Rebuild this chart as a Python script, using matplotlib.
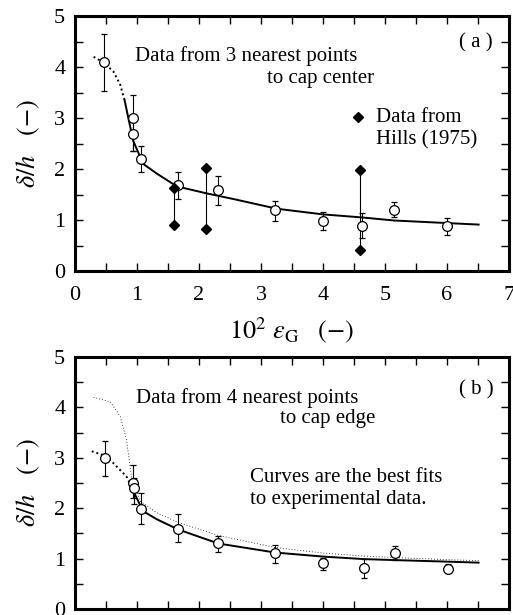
import matplotlib
matplotlib.use("Agg")
import matplotlib.pyplot as plt
from matplotlib.ticker import MultipleLocator

plt.rcParams['font.family'] = ['Liberation Serif', 'DejaVu Serif']
plt.rcParams['mathtext.fontset'] = 'stix'

# ---- Panel (a): 3 nearest points to cap center ----
a_x = [0.46, 0.93, 0.93, 1.06, 1.66, 2.31, 3.23, 4.00, 4.63, 5.15, 6.00]
a_y = [4.09, 3.00, 2.68, 2.19, 1.68, 1.58, 1.19, 0.98, 0.88, 1.20, 0.88]
a_lo = [3.53, 2.35, 2.35, 1.94, 1.41, 1.30, 0.99, 0.80, 0.65, 1.05, 0.71]
a_hi = [4.65, 3.46, 3.00, 2.45, 1.94, 1.87, 1.37, 1.16, 1.13, 1.36, 1.04]

hills_x = [1.60, 2.11, 4.59]
hills_top = [1.63, 2.02, 1.98]
hills_bot = [0.91, 0.82, 0.41]

fitA_dash_x = [0.30, 0.46, 0.62, 0.73, 0.80]
fitA_dash_y = [4.20, 4.09, 3.91, 3.65, 3.35]
fitA_x = [0.80, 0.86, 0.94, 1.10, 1.32, 1.64, 2.13, 2.56, 3.26, 4.00, 4.63, 5.15, 6.00, 6.51]
fitA_y = [3.35, 3.00, 2.55, 2.10, 1.91, 1.66, 1.52, 1.41, 1.22, 1.11, 1.05, 0.99, 0.94, 0.91]

# ---- Panel (b): 4 nearest points to cap edge ----
b_x = [0.48, 0.93, 0.95, 1.06, 1.66, 2.31, 3.23, 4.00, 4.66, 5.16, 6.01]
b_y = [2.99, 2.50, 2.40, 1.99, 1.59, 1.30, 1.11, 0.91, 0.81, 1.11, 0.80]
b_lo = [2.63, 2.20, 2.09, 1.69, 1.32, 1.14, 0.92, 0.78, 0.61, 0.97, 0.72]
b_hi = [3.34, 2.86, 2.60, 2.30, 1.88, 1.45, 1.26, 1.02, 0.99, 1.25, 0.89]

fitB_dash_x = [0.27, 0.51, 0.67, 0.83, 0.90]
fitB_dash_y = [3.13, 3.03, 2.83, 2.63, 2.45]
fitB_x = [0.90, 0.94, 1.10, 1.32, 1.66, 2.31, 3.23, 4.00, 4.66, 5.16, 6.00, 6.51]
fitB_y = [2.45, 2.34, 1.94, 1.78, 1.58, 1.30, 1.12, 1.04, 0.99, 0.97, 0.94, 0.92]

fitA_dot_x = [0.30, 0.57, 0.73, 0.83, 0.91, 1.05, 1.32, 1.66, 2.31, 3.23, 4.00, 4.66, 5.16, 6.00, 6.51]
fitA_dot_y = [4.20, 4.11, 3.82, 3.36, 2.63, 2.14, 1.91, 1.72, 1.46, 1.22, 1.11, 1.05, 1.02, 0.98, 0.96]

xticks = [0, 1, 2, 3, 4, 5, 6, 7]
yticks = [0, 1, 2, 3, 4, 5]

TXT = 15

fig = plt.figure(figsize=(5.13, 6.15), dpi=100)
axA = fig.add_axes([75/513, 1-271/615, 434/513, 255/615])
axB = fig.add_axes([75/513, 1-609/615, 434/513, 252/615])

def style(ax, show_xlabels=True):
    ax.set_xlim(0, 7)
    ax.set_ylim(0, 5)
    ax.set_xticks(xticks)
    ax.set_yticks(yticks)
    ax.xaxis.set_minor_locator(MultipleLocator(0.5))
    ax.yaxis.set_minor_locator(MultipleLocator(0.5))
    ax.tick_params(which='both', direction='in', top=True, right=True, width=1.0)
    ax.tick_params(which='major', length=6, labelsize=16)
    ax.tick_params(axis='x', which='major', pad=11)
    ax.tick_params(axis='y', which='major', pad=7)
    ax.tick_params(which='minor', length=6)
    for s in ax.spines.values():
        s.set_linewidth(2.2)
    if not show_xlabels:
        ax.tick_params(axis='x', labelbottom=False)
    ax.set_ylabel(r'$\delta/h$   $(-)$', fontsize=19, labelpad=9)

def circles(ax, x, y, lo, hi):
    yerr = [[yy - l for yy, l in zip(y, lo)], [h - yy for yy, h in zip(y, hi)]]
    ax.errorbar(x, y, yerr=yerr, fmt='o', mfc='white', mec='black', mew=0.9,
                ms=7, ecolor='black', elinewidth=0.8, capsize=2.5, capthick=0.8, zorder=3)

# Panel a
style(axA)
axA.plot(fitA_dash_x, fitA_dash_y, color='black', lw=1.4, ls=(0, (1.0, 1.5)), zorder=2)
axA.plot(fitA_x, fitA_y, color='black', lw=1.4, zorder=2)
circles(axA, a_x, a_y, a_lo, a_hi)
axA.vlines(hills_x, hills_bot, hills_top, color='black', lw=0.8, zorder=2)
axA.plot(hills_x, hills_top, 'D', color='black', ms=5.5, zorder=4)
axA.plot(hills_x, hills_bot, 'D', color='black', ms=5.5, zorder=4)
axA.plot([4.56], [3.01], 'D', color='black', ms=5.5)
axA.text(4.86, 3.01, 'Data from', fontsize=TXT, va='center', ha='left')
axA.text(4.86, 2.57, 'Hills (1975)', fontsize=TXT, va='center', ha='left')
axA.text(0.97, 4.21, 'Data from 3 nearest points', fontsize=TXT, va='center', ha='left')
axA.text(4.83, 3.77, 'to cap center', fontsize=TXT, va='center', ha='right')
axA.text(6.74, 4.48, '( a )', fontsize=15, va='center', ha='right')
axA.set_xlabel(r'$10^2\ \varepsilon_{\mathrm{G}}\ \ \ (-)$', fontsize=19, labelpad=7)

# Panel b
style(axB, show_xlabels=False)
axB.plot(fitA_dot_x, fitA_dot_y, color='black', lw=0.6, ls=(0, (1, 2.5)), zorder=2)
axB.plot(fitB_dash_x, fitB_dash_y, color='black', lw=1.4, ls=(0, (1.0, 1.5)), zorder=2)
axB.plot(fitB_x, fitB_y, color='black', lw=1.4, zorder=2)
circles(axB, b_x, b_y, b_lo, b_hi)
axB.text(0.99, 4.18, 'Data from 4 nearest points', fontsize=TXT, va='center', ha='left')
axB.text(4.84, 3.78, 'to cap edge', fontsize=TXT, va='center', ha='right')
axB.text(2.83, 2.61, 'Curves are the best fits', fontsize=TXT, va='center', ha='left')
axB.text(2.83, 2.17, 'to experimental data.', fontsize=TXT, va='center', ha='left')
axB.text(6.76, 4.35, '( b )', fontsize=15, va='center', ha='right')

fig.savefig('out.png', dpi=100)
